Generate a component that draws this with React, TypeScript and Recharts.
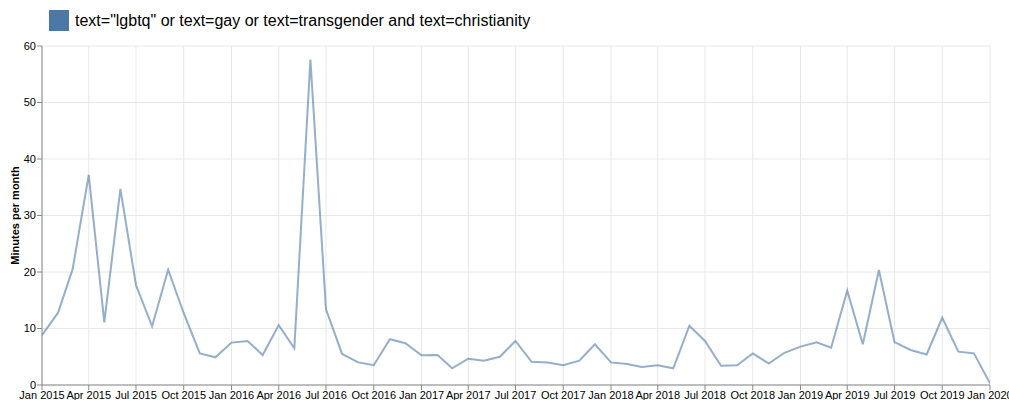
import React from 'react';
import { LineChart, Line, XAxis, YAxis, CartesianGrid, Legend } from 'recharts';

const seriesName = 'text="lgbtq" or text=gay or text=transgender and text=christianity';
const startYear = 2015;
const values2015 = [8.8, 12.8, 20.5, 37.2, 11.1, 34.7, 17.7, 10.4, 20.4, 12.7, 5.6, 4.9];
const values2016 = [7.5, 7.8, 5.3, 10.6, 6.5, 57.6, 13.4, 5.5, 4.0, 3.5, 8.1, 7.4];
const values2017 = [5.25, 5.3, 2.95, 4.66, 4.3, 5.0, 7.8, 4.1, 4.0, 3.5, 4.3, 7.2];
const values2018 = [4.0, 3.7, 3.2, 3.5, 2.95, 10.5, 7.8, 3.4, 3.5, 5.6, 3.8, 5.7];
const values2019 = [6.8, 7.55, 6.6, 16.7, 7.2, 20.35, 7.6, 6.2, 5.4, 11.9, 5.9, 5.6];
const values2020 = [0.3];
const yTicks = [0, 10, 20, 30, 40, 50, 60];
const monthNames = ['Jan', 'Feb', 'Mar', 'Apr', 'May', 'Jun', 'Jul', 'Aug', 'Sep', 'Oct', 'Nov', 'Dec'];

const allValues = [values2015, values2016, values2017, values2018, values2019, values2020];
const data = allValues.flatMap((vals, yi) =>
  vals.map((v, mi) => ({ t: Date.UTC(startYear + yi, mi, 1), minutes: v }))
);
const xTicks: number[] = [];
for (let y = 2015; y <= 2020; y++) {
  for (let m = 0; m < 12; m += 3) {
    if (y === 2020 && m > 0) break;
    xTicks.push(Date.UTC(y, m, 1));
  }
}
const fmt = (t: number) => {
  const d = new Date(t);
  return `${monthNames[d.getUTCMonth()]} ${d.getUTCFullYear()}`;
};

const FONT = '"Liberation Sans", Arial, Helvetica, sans-serif';

const YLabel = (props: any) => {
  const vb = props.viewBox || { x: 0, y: 0, width: 0, height: 0 };
  const cx = vb.x + 16;
  const cy = vb.y + vb.height / 2;
  return (
    <text
      x={cx}
      y={cy}
      transform={`rotate(-90, ${cx}, ${cy})`}
      textAnchor="middle"
      dominantBaseline="middle"
      fontFamily={FONT}
      fontSize={11}
      fontWeight="bold"
      fill="#000"
    >
      Minutes per month
    </text>
  );
};

const LegendContent = () => (
  <div style={{ display: 'flex', alignItems: 'center', fontFamily: FONT }}>
    <div style={{ width: 20, height: 21, background: '#4C78A8', marginRight: 6 }} />
    <span style={{ fontSize: 16, color: '#000', whiteSpace: 'nowrap' }}>{seriesName}</span>
  </div>
);

export default function App() {
  return (
    <div style={{ position: 'absolute', left: 0, top: 0 }}>
      <LineChart width={1009} height={400} data={data} margin={{ top: 46, right: 19, bottom: 0, left: 0 }}>
        <CartesianGrid stroke="#e8e8e8" strokeWidth={1} verticalValues={xTicks} horizontalValues={yTicks} />
        <XAxis
          dataKey="t"
          type="number"
          scale="time"
          domain={[xTicks[0], xTicks[xTicks.length - 1]]}
          ticks={xTicks}
          tickFormatter={fmt}
          interval={0}
          height={15}
          tickSize={5}
          tickMargin={1}
          stroke="#888"
          tick={{ fill: '#000', fontSize: 11, fontFamily: FONT }}
          allowDataOverflow
        />
        <YAxis
          domain={[0, 60]}
          ticks={yTicks}
          width={42}
          tickSize={5}
          tickMargin={1}
          stroke="#888"
          tick={{ fill: '#000', fontSize: 11, fontFamily: FONT }}
          label={<YLabel />}
        />
        <Legend
          verticalAlign="middle"
          align="center"
          layout="horizontal"
          content={<LegendContent />}
          wrapperStyle={{ top: 10, left: 49, width: 'auto', height: 21 }}
        />
        <Line
          type="linear"
          dataKey="minutes"
          name={seriesName}
          stroke="#4C78A8"
          strokeOpacity={0.6}
          strokeWidth={2}
          dot={false}
          isAnimationActive={false}
        />
      </LineChart>
    </div>
  );
}
